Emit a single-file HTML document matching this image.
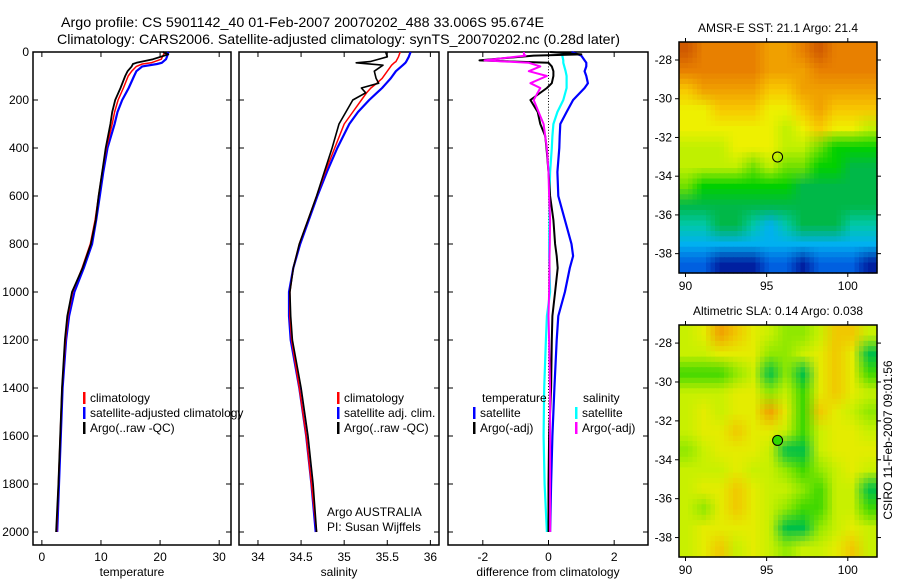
<!DOCTYPE html>
<html><head><meta charset="utf-8"><style>
body{margin:0;background:#fff;}
svg{display:block;font-family:"Liberation Sans",sans-serif;}
</style></head><body>
<svg id="fig" width="900" height="580" viewBox="0 0 900 580" xmlns="http://www.w3.org/2000/svg">
<rect width="900" height="580" fill="#fff"/>
<text x="61" y="27" font-size="14" textLength="483" lengthAdjust="spacingAndGlyphs">Argo profile: CS 5901142_40 01-Feb-2007 20070202_488 33.006S 95.674E</text>
<text x="57" y="44" font-size="14" textLength="563" lengthAdjust="spacingAndGlyphs">Climatology: CARS2006. Satellite-adjusted climatology: synTS_20070202.nc (0.28d later)</text>
<g id="g"></g>
</svg>
<script>
// ---- data ----
const depthT = [0,10,30,45,50,60,80,100,150,200,250,300,400,500,600,700,800,900,1000,1100,1200,1400,1600,1800,2000];
const tempClim = [20.8,20.6,20.2,18.5,17,16,15.2,14.6,13.8,12.9,12.3,11.9,10.9,10.2,9.6,9,8.2,6.8,5.2,4.4,4.0,3.4,3.1,2.8,2.5];
const tempSat  = [21.4,21.3,21.0,20.3,19.5,17,16,15.6,14.7,13.6,12.8,12.3,11.1,10.4,9.8,9.2,8.5,7.1,5.5,4.6,4.1,3.5,3.2,2.9,2.6];
const tempArgo = [20.5,21.4,18.8,16,15.4,15.2,14.5,14.1,13.3,12.4,11.9,11.6,10.8,10.2,9.6,9.1,8.3,6.9,5.1,4.3,3.9,3.4,3.1,2.8,2.4];
const depthS = [0,20,40,45,55,80,110,130,150,170,200,250,300,400,500,600,700,800,900,1000,1100,1200,1400,1600,1800,2000];
const salClim = [35.65,35.63,35.6,35.58,35.55,35.5,35.44,35.38,35.31,35.26,35.2,35.1,35.0,34.89,34.78,34.68,34.58,34.48,34.41,34.37,34.37,34.39,34.48,34.56,34.62,34.68];
const salSat  = [35.77,35.75,35.72,35.71,35.68,35.6,35.54,35.49,35.44,35.38,35.29,35.16,35.06,34.92,34.8,34.69,34.59,34.49,34.41,34.36,34.36,34.38,34.48,34.56,34.62,34.67];
const salArgo = [35.48,35.5,35.3,35.14,35.45,35.35,35.37,35.4,35.2,35.25,35.1,35.02,34.94,34.86,34.77,34.68,34.58,34.48,34.41,34.37,34.38,34.4,34.5,34.58,34.64,34.68];
const depthD = [0,10,15,35,45,60,80,100,130,150,200,250,300,350,400,500,600,700,800,850,900,1000,1100,1200,1400,1600,1800,2000];
const dTempSat  = [0.7,0.9,1.0,1.1,1.15,1.15,1.1,1.15,1.2,1.1,0.75,0.55,0.36,0.34,0.33,0.27,0.3,0.5,0.7,0.75,0.65,0.5,0.3,0.25,0.18,0.12,0.08,0.05];
const dTempArgo = [0.05,1.0,-0.45,-2.1,0.0,0.1,0.15,0.15,0.1,-0.05,-0.55,-0.33,-0.25,-0.1,-0.06,0.0,0.05,0.15,0.2,0.25,0.28,0.2,0.12,0.1,0.08,0.02,0.0,0.0];
const dSalSat   = [0.4,0.4,0.42,0.45,0.45,0.48,0.52,0.55,0.55,0.55,0.45,0.27,0.15,0.12,0.1,0.05,0.03,0.03,0.02,0.02,0.03,0.05,-0.05,-0.08,-0.13,-0.15,-0.12,-0.05];
const dSalArgo  = [-0.75,-0.75,-0.7,-1.95,-0.6,-0.25,-0.6,-0.05,-0.55,-0.25,-0.45,-0.3,-0.15,-0.1,-0.05,0.0,0.02,0.05,0.04,0.03,0.03,0.02,0.0,0.02,0.05,0.05,0.05,0.05];
const tempTicks = [0,10,20,30];
const salTicks = [34,34.5,35,35.5,36];
const salTickLabels = ["34","34.5","35","35.5","36"];
const diffTicks = [-2,0,2];
const depthTicks = [0,200,400,600,800,1000,1200,1400,1600,1800,2000];
const lonTicks = [90,95,100];
const latTicks = [-28,-30,-32,-34,-36,-38];
const sstGrid = [
"0 1 1 1 1 2 2 1 0 1 1 1","1 1 1 1 1 2 2 2 1 1 1 1","3 2 2 2 2 3 3 2 2 2 2 2",
"4 4 3 3 3 4 4 3 2 3 3 3","4 4 4 4 4 4 5 4 3 4 4 5","5 5 5 4 4 4 5 5 6 7 7 7",
"5 5 5 5 6 5 6 6 7 7 8 8","6 7 7 7 7 7 7 8 8 8 8 8","8 8 8 8 8 8 8 8 8 8 8 8",
"9 9 8 8 9 10 9 8 8 8 9 9","10 10 10 10 10 10 10 10 10 10 10 10","11 11 12 12 12 11 11 12 11 11 11 12"];
const slaGrid = [
"3 2 0 1 2 3 4 4 3 1 1 3","3 3 2 2 2 4 4 3 2 1 2 6","5 5 5 4 3 6 4 6 2 1 2 5",
"3 3 3 2 2 4 3 5 2 1 2 3","3 2 3 2 2 0 2 5 1 2 3 4","3 2 2 1 2 2 3 5 3 2 2 3",
"4 3 2 2 2 3 6 6 3 2 2 2","3 3 3 2 3 3 4 5 4 3 2 3","3 2 2 1 2 3 3 4 5 3 3 6",
"3 4 2 1 2 3 4 5 5 3 3 5","3 2 2 2 2 3 6 6 4 3 2 3","3 2 1 3 2 3 4 3 3 2 1 3"];
const floatLon = 95.674, floatLat = -33.006;

const NS="http://www.w3.org/2000/svg";
const G=document.getElementById('g');
function el(t,a,p){const e=document.createElementNS(NS,t);for(const k in a)e.setAttribute(k,a[k]);(p||G).appendChild(e);return e;}
const Y0=52, Y1=545;
const yD = d => 52 + d*0.24;

function panel(name,x0,x1,xmin,xmax,ticks,labels,title,showDepth){
  const sx=v=>x0+(v-xmin)/(xmax-xmin)*(x1-x0);
  const f=el('rect',{x:x0,y:Y0,width:x1-x0,height:Y1-Y0,fill:'none',stroke:'#000','stroke-width':1.5});
  
  
  ticks.forEach((v,i)=>{
    const x=sx(v);
    el('line',{x1:x,x2:x,y1:Y0,y2:Y0+5,stroke:'#000'});
    el('line',{x1:x,x2:x,y1:Y1,y2:Y1-5,stroke:'#000'});
    const t=el('text',{x:x,y:561,'font-size':12,'text-anchor':'middle'});t.textContent=labels[i];
    
    
  });
  depthTicks.forEach(d=>{
    const y=yD(d);
    el('line',{x1:x0,x2:x0+5,y1:y,y2:y,stroke:'#000'});
    el('line',{x1:x1,x2:x1-5,y1:y,y2:y,stroke:'#000'});
    if(showDepth){const t=el('text',{x:29,y:y+4,'font-size':12,'text-anchor':'end'});t.textContent=d;
      
      }
  });
  const tt=el('text',{x:(x0+x1)/2,y:576,'font-size':12,'text-anchor':'middle'});tt.textContent=title;
  
  
  return sx;
}
function series(sx,depths,vals,color,w,name){
  const pts=depths.map((d,i)=>sx(vals[i]).toFixed(1)+','+yD(d).toFixed(1)).join(' ');
  const p=el('polyline',{points:pts,fill:'none',stroke:color,'stroke-width':w,'stroke-linejoin':'round'});
  
  
}
function legend(x,y,color,label,name){
  if(color){el('rect',{x:x,y:y-10,width:2.5,height:12,fill:color});}
  const t=el('text',{x:x+7,y:y,'font-size':12});t.textContent=label;
  
  
}
const s1=panel('temperature-panel',33,231,-1.5,32,tempTicks,tempTicks.map(String),'temperature',true);
series(s1,depthT,tempSat,'#0000ff',2.2,'temp-satellite-line');
series(s1,depthT,tempClim,'#ff0000',1.5,'temp-climatology-line');
series(s1,depthT,tempArgo,'#000',1.8,'temp-argo-line');
legend(83,402,'#ff0000','climatology','legend-climatology');
legend(83,417,'#0000ff','satellite-adjusted climatology','legend-satellite-adjusted');
legend(83,432,'#000','Argo(..raw -QC)','legend-argo-raw');
const s2=panel('salinity-panel',239,439,33.78,36.1,salTicks,salTickLabels,'salinity',false);
series(s2,depthS,salSat,'#0000ff',2.2,'sal-satellite-line');
series(s2,depthS,salClim,'#ff0000',1.5,'sal-climatology-line');
series(s2,depthS,salArgo,'#000',1.6,'sal-argo-line');
legend(337,402,'#ff0000','climatology','legend-sal-climatology');
legend(337,417,'#0000ff','satellite adj. clim.','legend-sal-satellite');
legend(337,432,'#000','Argo(..raw -QC)','legend-sal-argo');
legend(320,516,null,'Argo AUSTRALIA','argo-australia-label');
legend(320,531,null,'PI: Susan Wijffels','pi-label');
const s3=panel('difference-panel',448,648,-3.06,3.03,diffTicks,diffTicks.map(String),'difference from climatology',false);
for(let d=0;d<2000;d+=12){el('rect',{x:s3(0)-0.5,y:yD(d),width:1,height:1,fill:'#000'});}
series(s3,depthD,dTempSat,'#0000ff',2.2,'diff-temp-satellite-line');
series(s3,depthD,dSalSat,'#00ffff',2.2,'diff-sal-satellite-line');
series(s3,depthD,dTempArgo,'#000',2,'diff-temp-argo-line');
series(s3,depthD,dSalArgo,'#ff00ff',2,'diff-sal-argo-line');
legend(475,402,null,'temperature','legend-temperature-heading');
legend(473,417,'#0000ff','satellite','legend-diff-temp-satellite');
legend(473,432,'#000','Argo(-adj)','legend-diff-temp-argo');
legend(576,402,null,'salinity','legend-salinity-heading');
legend(575,417,'#00ffff','satellite','legend-diff-sal-satellite');
legend(575,432,'#ff00ff','Argo(-adj)','legend-diff-sal-argo');

const sstCols=['#d05a00','#e88000','#f0a000','#f8c800','#eef000','#c0f000','#70e000','#00d000','#00b848','#00c8a8','#00b0f0','#0060e0','#0020a0'];
const slaCols=['#f0a000','#f0c800','#e4ec00','#c8f000','#90e800','#40d800','#00c048','#10a060'];
function hex(c){return [1,3,5].map(i=>parseInt(c.substr(i,2),16));}
function map(name,grid,cols,top,bottom,title,mcolor){
  const L=679,R=877,lon0=89.6,lon1=101.8,lat0=-27.07,lat1=-39.0;
  const sx=v=>L+(v-lon0)/(lon1-lon0)*(R-L), sy=v=>top+(v-lat0)/(lat1-lat0)*(bottom-top);
  const g=grid.map(r=>r.trim().split(/\s+/).map(Number));
  const nr=g.length,nc=g[0].length,rgb=cols.map(hex);
  const grp=el('g',{});
  
  
  const N=44;
  const cw=(R-L)/N,ch=(bottom-top)/N;
  for(let i=0;i<N;i++)for(let j=0;j<N;j++){
    const fr=Math.min(Math.max((i+0.5)/N*nr-0.5,0),nr-1),fc=Math.min(Math.max((j+0.5)/N*nc-0.5,0),nc-1);
    const r0=Math.floor(fr),c0=Math.floor(fc),r1=Math.min(r0+1,nr-1),c1=Math.min(c0+1,nc-1),a=fr-r0,b=fc-c0;
    const col=[0,1,2].map(k=>{
      const v=(1-a)*((1-b)*rgb[g[r0][c0]][k]+b*rgb[g[r0][c1]][k])+a*((1-b)*rgb[g[r1][c0]][k]+b*rgb[g[r1][c1]][k]);
      return Math.round(v);});
    el('rect',{x:(L+j*cw).toFixed(2),y:(top+i*ch).toFixed(2),width:(cw+0.6).toFixed(2),height:(ch+0.6).toFixed(2),fill:'rgb('+col.join(',')+')'},grp);
  }
  const f=el('rect',{x:L,y:top,width:R-L,height:bottom-top,fill:'none',stroke:'#000','stroke-width':1.5});
  
  
  lonTicks.forEach(v=>{const x=sx(v);el('line',{x1:x,x2:x,y1:top,y2:top-4,stroke:'#000'});el('line',{x1:x,x2:x,y1:bottom,y2:bottom+4,stroke:'#000'});
    const t=el('text',{x:x,y:bottom+17,'font-size':12,'text-anchor':'middle'});t.textContent=v;
    
    });
  latTicks.forEach(v=>{const y=sy(v);el('line',{x1:L,x2:L-4,y1:y,y2:y,stroke:'#000'});el('line',{x1:R,x2:R+4,y1:y,y2:y,stroke:'#000'});
    const t=el('text',{x:L-7,y:y+4,'font-size':12,'text-anchor':'end'});t.textContent=v;
    
    });
  const m=el('circle',{cx:sx(floatLon),cy:sy(floatLat),r:5,fill:mcolor,stroke:'#000','stroke-width':1});
  
  
  const t=el('text',{x:(L+R)/2,y:top-10,'font-size':12,'text-anchor':'middle'});t.textContent=title;
  
  
}
map('sst-map',sstGrid,sstCols,42,273,'AMSR-E SST: 21.1 Argo: 21.4','none');
map('sla-map',slaGrid,slaCols,325,557,'Altimetric SLA: 0.14 Argo: 0.038','#30d800');
const st=el('text',{x:0,y:0,'font-size':12,'text-anchor':'middle',transform:'translate(892,440) rotate(-90)'});
st.textContent='CSIRO 11-Feb-2007 09:01:56';


</script>
</body></html>
